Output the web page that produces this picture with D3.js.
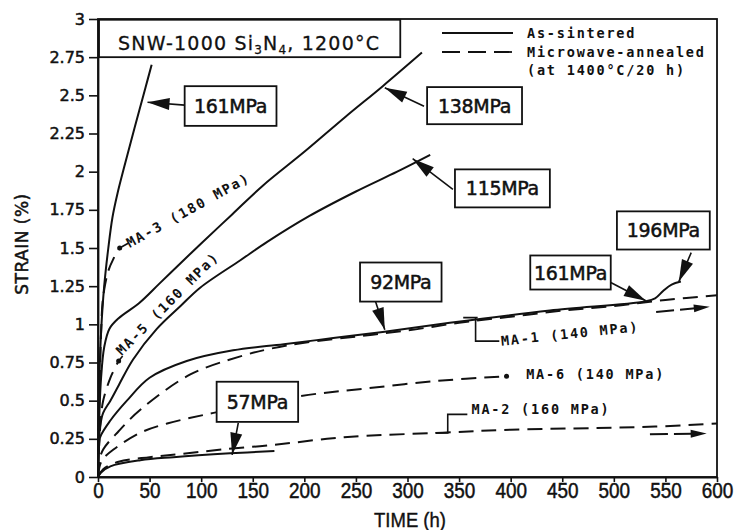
<!DOCTYPE html>
<html><head><meta charset="utf-8">
<script src="https://cdn.jsdelivr.net/npm/d3@7"></script>
<style>body{margin:0;background:#fff}svg{display:block}</style>
</head><body><svg id="c" width="735" height="530"></svg>
<script>
// ---- data (time h, strain %) ----
const xTicks = [0,50,100,150,200,250,300,350,400,450,500,550,600];
const yTicks = [0,0.25,0.5,0.75,1,1.25,1.5,1.75,2,2.25,2.5,2.75,3];
const yTickLabels = ["0","0.25","0.5","0.75","1","1.25","1.5","1.75","2","2.25","2.5","2.75","3"];

// As-sintered (solid)
const as161 = [[0,0],[1,0.55],[3,0.95],[6,1.25],[10,1.5],[14,1.7],[19,1.86],[25,2.02],[32,2.2],[40,2.4],[46,2.55],[52,2.70]];
const as138 = [[0,0],[1,0.35],[3,0.65],[6,0.85],[11,0.97],[20,1.04],[40,1.14],[60,1.27],[83,1.42],[100,1.53],[130,1.72],[160,1.91],[200,2.13],[240,2.36],[276,2.56],[314,2.78]];
const as115 = [[0,0],[1,0.25],[2,0.33],[5,0.42],[12,0.5],[20,0.6],[34,0.77],[57,0.97],[80,1.12],[99,1.24],[138,1.42],[164,1.54],[205,1.71],[250,1.87],[290,2.0],[322,2.11]];
const as92  = [[0,0],[1,0.2],[2,0.26],[12,0.37],[28,0.5],[50,0.65],[86,0.76],[131,0.83],[180,0.87],[228,0.91],[276,0.95],[341,1.01],[438,1.09],[530,1.15],[540,1.17],[548,1.22],[556,1.26],[565,1.28]];
const as57  = [[0,0],[3,0.03],[12,0.07],[41,0.11],[73,0.13],[128,0.155],[171,0.17]];

// Microwave-annealed (dashed)
const ma3 = [[0,0],[1,0.4],[2,0.7],[3,0.95],[5,1.18],[10,1.35],[15,1.43],[21,1.5]];
const ma5 = [[0,0],[1,0.2],[3,0.4],[5,0.5],[12,0.65],[20,0.76]];
const ma1 = [[0,0],[1,0.1],[5,0.18],[20,0.3],[41,0.44],[89,0.67],[138,0.79],[167,0.84],[200,0.88],[250,0.92],[300,0.96],[350,1.01],[400,1.05],[450,1.09],[500,1.12],[550,1.16],[600,1.19]];
const ma6 = [[0,0],[2,0.08],[5,0.12],[15,0.18],[41,0.29],[67,0.35],[112,0.42],[196,0.53],[260,0.58],[330,0.63],[396,0.66]];
const ma2 = [[0,0],[5,0.05],[20,0.1],[50,0.13],[80,0.15],[120,0.18],[170,0.21],[222,0.25],[260,0.27],[334,0.29],[400,0.31],[480,0.32],[540,0.33],[600,0.35]];
const ma1Arrow = [[541,1.08],[593,1.115]];
const ma2Arrow = [[535,0.28],[590,0.285]];

// stress labels: text, box corners (t0,s0,t1,s1), arrow from/to (t,s)
const stressLabels = [
  {text:"161MPa", box:[84,2.56,173,2.30], from:[84,2.436], to:[48,2.455]},
  {text:"138MPa", box:[319,2.554,411,2.311], from:[316,2.429], to:[278,2.55]},
  {text:"115MPa", box:[346,2.015,438,1.766], from:[344,1.884], to:[305,2.085]},
  {text:"196MPa", box:[503,1.74,593,1.49], from:[575,1.47], to:[563,1.28]},
  {text:"161MPa", box:[419,1.451,497,1.228], from:[497,1.274], to:[531,1.155]},
  {text:"92MPa",  box:[254,1.405,333,1.149], from:[269,1.149], to:[278,0.965]},
  {text:"57MPa",  box:[115,0.624,194,0.361], from:[136,0.355], to:[130,0.145]}
];

// ---- drawing ----
const svg = d3.select("#c");
const x = d3.scaleLinear().domain([0,600]).range([98,717]);
const y = d3.scaleLinear().domain([0,3]).range([477,19]);
const ink = "#111";

// frame
svg.append("rect").attr("x",x(0)).attr("y",y(3)).attr("width",x(600)-x(0)).attr("height",y(0)-y(3))
  .attr("fill","none").attr("stroke",ink).attr("stroke-width",1.8);

// axes
const xAxis = svg.append("g").attr("transform",`translate(0,${y(0)})`)
  .call(d3.axisBottom(x).tickValues(xTicks).tickFormat(d3.format("d")).tickSizeInner(5).tickSizeOuter(0).tickPadding(0));
xAxis.select(".domain").attr("stroke",ink).attr("stroke-width",1.8);
xAxis.selectAll(".tick line").attr("stroke",ink).attr("stroke-width",1.6);
xAxis.selectAll("text").attr("fill",ink).style("font-family","'Liberation Sans',Arial,sans-serif")
  .style("font-size","22px").attr("transform","scale(0.86,1)").attr("stroke",ink).attr("stroke-width",0.5);

const yAxis = svg.append("g").attr("transform",`translate(${x(0)},0)`)
  .call(d3.axisLeft(y).tickValues(yTicks).tickFormat((d,i)=>yTickLabels[i]).tickSizeInner(9).tickSizeOuter(0).tickPadding(4));
yAxis.select(".domain").attr("stroke",ink).attr("stroke-width",1.8);
yAxis.selectAll(".tick line").attr("stroke",ink).attr("stroke-width",1.6);
yAxis.selectAll("text").attr("fill",ink).style("font-family","'DejaVu Sans',sans-serif")
  .style("font-size","16px").attr("stroke",ink).attr("stroke-width",0.5);

// axis titles
svg.append("text").attr("transform","translate(410,527) scale(0.88,1)").attr("text-anchor","middle")
  .style("font-family","'Liberation Sans',Arial,sans-serif").style("font-size","21px")
  .attr("fill",ink).attr("stroke",ink).attr("stroke-width",0.4).text("TIME (h)");
svg.append("text").attr("transform","translate(28,244) rotate(-90)").attr("text-anchor","middle")
  .style("font-family","'DejaVu Sans',sans-serif").style("font-size","17px").attr("letter-spacing","0.5")
  .attr("fill",ink).attr("stroke",ink).attr("stroke-width",0.5).text("STRAIN (%)");

// curves
const line = d3.line().x(d=>x(d[0])).y(d=>y(d[1])).curve(d3.curveCatmullRom.alpha(0.5));
const g = svg.append("g").attr("fill","none").attr("stroke",ink).attr("stroke-width",2).attr("stroke-linejoin","round");
[as161,as138,as115,as92,as57].forEach(s=>g.append("path").attr("d",line(s)));
[ma3,ma5,ma1,ma6,ma2].forEach(s=>g.append("path").attr("d",line(s)).attr("stroke-dasharray","15,8"));

// end dots
[ma3,ma5,ma6].forEach(s=>{const p=s[s.length-1];
  svg.append("circle").attr("cx",x(p[0])).attr("cy",y(p[1])).attr("r",2.5).attr("fill",ink);});

function arrowHead(x1,y1,x2,y2,len,w){
  const a=Math.atan2(y2-y1,x2-x1), bx=x2-len*Math.cos(a), by=y2-len*Math.sin(a);
  const px=-Math.sin(a)*w, py=Math.cos(a)*w;
  return `M${x2},${y2}L${bx+px},${by+py}L${bx-px},${by-py}Z`;
}
// continuation arrows
[ma1Arrow,ma2Arrow].forEach(s=>{
  const x1=x(s[0][0]),y1=y(s[0][1]),x2=x(s[1][0]),y2=y(s[1][1]);
  svg.append("line").attr("x1",x1).attr("y1",y1).attr("x2",x2-8).attr("y2",y2+(y1-y2)*8/(x2-x1))
    .attr("stroke",ink).attr("stroke-width",2).attr("stroke-dasharray","18,6");
  svg.append("path").attr("d",arrowHead(x1,y1,x2,y2,16,4)).attr("fill",ink);
});

// stress label boxes
stressLabels.forEach(l=>{
  const [t0,s0,t1,s1]=l.box;
  const fx=x(l.from[0]),fy=y(l.from[1]),tx=x(l.to[0]),ty=y(l.to[1]);
  svg.append("line").attr("x1",fx).attr("y1",fy).attr("x2",tx).attr("y2",ty).attr("stroke",ink).attr("stroke-width",1.6);
  svg.append("path").attr("d",arrowHead(fx,fy,tx,ty,22,6)).attr("fill",ink);
  svg.append("rect").attr("x",x(t0)).attr("y",y(s0)).attr("width",x(t1)-x(t0)).attr("height",y(s1)-y(s0))
    .attr("fill","#fff").attr("stroke",ink).attr("stroke-width",1.8);
  svg.append("text").attr("x",(x(t0)+x(t1))/2).attr("y",(y(s0)+y(s1))/2+7).attr("text-anchor","middle")
    .style("font-family","'DejaVu Sans',sans-serif").style("font-size","19px").attr("letter-spacing","-0.3")
    .attr("fill",ink).attr("stroke",ink).attr("stroke-width",0.5).text(l.text);
});

// title box
svg.append("rect").attr("x",x(1)).attr("y",y(2.995)).attr("width",x(293)-x(1)).attr("height",y(2.75)-y(2.995))
  .attr("fill","#fff").attr("stroke",ink).attr("stroke-width",1.8);
const tt = svg.append("text").attr("x",x(19.5)).attr("y",y(2.8)).style("font-family","'DejaVu Sans',sans-serif")
  .style("font-size","19px").attr("letter-spacing","1.2").attr("fill",ink).attr("stroke",ink).attr("stroke-width",0.3);
tt.append("tspan").text("SNW-1000 Si");
tt.append("tspan").attr("dy",4).style("font-size","12px").text("3");
tt.append("tspan").attr("dy",-4).text("N");
tt.append("tspan").attr("dy",4).style("font-size","12px").text("4");
tt.append("tspan").attr("dy",-4).text(", 1200°C");

// legend
const mono = "'DejaVu Sans Mono',monospace";
const lg = svg.append("g").attr("transform",`translate(${x(600)},${y(3)})`);
lg.append("line").attr("x1",-275).attr("x2",-204).attr("y1",14).attr("y2",14).attr("stroke",ink).attr("stroke-width",1.8);
lg.append("line").attr("x1",-275).attr("x2",-204).attr("y1",33).attr("y2",33).attr("stroke",ink).attr("stroke-width",1.8).attr("stroke-dasharray","18,8");
[["As-sintered",19],["Microwave-annealed",38],["(at 1400°C/20 h)",56]].forEach(([t,yy])=>
  lg.append("text").attr("x",-190).attr("y",yy).style("font-family",mono).style("font-weight","bold")
    .style("font-size","13.5px").attr("letter-spacing","1.8").attr("fill",ink).text(t));

// MA labels
function maText(tx,ty,rot,str){
  svg.append("text").attr("transform",`translate(${tx},${ty}) rotate(${rot})`)
    .style("font-family",mono).style("font-weight","bold").style("font-size","13.5px")
    .attr("letter-spacing","1.8").attr("fill",ink).text(str);
}
// MA-3
{const p=ma3[ma3.length-1], px=x(p[0]), py=y(p[1]);
 svg.append("line").attr("x1",px).attr("y1",py).attr("x2",px+9).attr("y2",py-5).attr("stroke",ink).attr("stroke-width",1.6);
 maText(px+10,py,-29,"MA-3 (180 MPa)");}
// MA-5
{const p=ma5[ma5.length-1], px=x(p[0]), py=y(p[1]);
 svg.append("line").attr("x1",px).attr("y1",py).attr("x2",px+4).attr("y2",py-5).attr("stroke",ink).attr("stroke-width",1.6);
 maText(px+3,py-5,-45,"MA-5 (160 MPa)");}
// MA-1 leader
svg.append("path").attr("d",`M${x(354)},${y(1.044)}H${x(368)}M${x(366)},${y(1.044)}V${y(0.89)}H${x(389)}`)
  .attr("fill","none").attr("stroke",ink).attr("stroke-width",1.6);
maText(x(391),y(0.86),-6,"MA-1 (140 MPa)");
// MA-6
maText(x(415),y(0.645),0,"MA-6 (140 MPa)");
// MA-2 leader
svg.append("path").attr("d",`M${x(327)},${y(0.289)}H${x(339)}V${y(0.41)}H${x(358)}`)
  .attr("fill","none").attr("stroke",ink).attr("stroke-width",1.6);
maText(x(362),y(0.415),0,"MA-2 (160 MPa)");
</script></body></html>
